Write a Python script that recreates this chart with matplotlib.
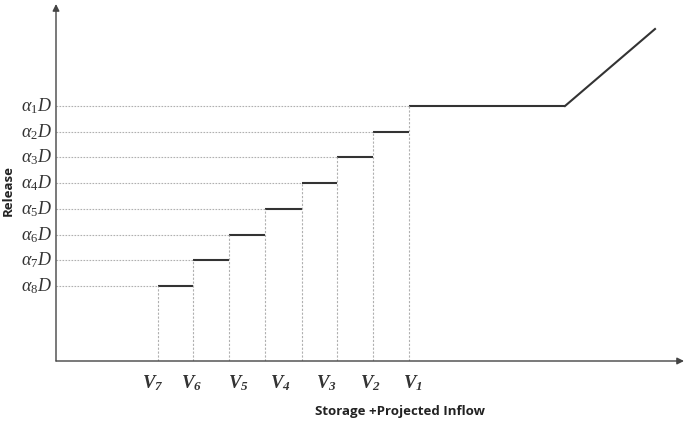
import matplotlib.pyplot as plt

plt.rcParams['mathtext.fontset'] = 'custom'
plt.rcParams['mathtext.it'] = 'Liberation Serif:italic'
plt.rcParams['mathtext.rm'] = 'Liberation Serif'
plt.rcParams['mathtext.bf'] = 'Liberation Serif:bold:italic'

# release levels alpha_1 D ... alpha_8 D (top to bottom)
levels = [255, 229, 204, 178, 152, 126, 101, 75]
level_labels = [r'$\alpha_{%d}D$' % (i + 1) for i in range(8)]
# storage breakpoints, left edge of each step (step for alpha_8 first)
breaks = [102, 137, 173, 209, 246, 281, 317, 353]
# V labels and where they sit on the x axis
v_labels = [r'$\mathbf{V_{%d}}$' % i for i in range(7, 0, -1)]
v_pos = [97, 136, 182, 224, 270, 314, 357]
# flat end of top step and the spill line
flat_end = 509
spill_end = (599, 332)
x_max, y_max = 629, 361

fig = plt.figure(figsize=(6.85, 4.21), dpi=100)
ax = fig.add_axes([56 / 685, 60 / 421, 629 / 685, 361 / 421])
ax.set_xlim(0, x_max)
ax.set_ylim(0, y_max)
ax.axis('off')

lv = levels[::-1]  # alpha_8 first, matches breaks
for i, (x0, y) in enumerate(zip(breaks, lv)):
    x1 = breaks[i + 1] if i + 1 < len(breaks) else flat_end
    ax.plot([x0, x1], [y, y], color='#333333', lw=1.5, solid_capstyle='butt')
    ax.plot([0, x0], [y, y], color='#b0b0b0', lw=0.8, ls=(0, (1.5, 1.2)))
    ax.plot([x0, x0], [0, y], color='#b0b0b0', lw=0.8, ls=(0, (2, 1.5)))

ax.plot([flat_end, spill_end[0]], [lv[-1], spill_end[1]], color='#333333', lw=1.5)

# axes with arrows
ax.annotate('', xy=(0, 357), xytext=(0, 0),
            arrowprops=dict(arrowstyle='-|>', color='#444444', lw=1.0,
                            mutation_scale=10, shrinkA=0, shrinkB=0))
ax.annotate('', xy=(628, 0), xytext=(0, 0),
            arrowprops=dict(arrowstyle='-|>', color='#444444', lw=1.0,
                            mutation_scale=10, shrinkA=0, shrinkB=0))

for y, lab in zip(levels, level_labels):
    ax.text(-4, y, lab, ha='right', va='center', fontsize=13, color='#333333')

for x, lab in zip(v_pos, v_labels):
    ax.text(x, -22, lab, ha='center', va='center', fontsize=13.5, color='#333333')

ax.text(344, -50, 'Storage +Projected Inflow', ha='center', va='center',
        fontsize=9.5, fontweight='bold', family='Open Sans', color='#222222')
ax.text(-48, 170, 'Release', ha='center', va='center', rotation=90,
        fontsize=9.5, fontweight='bold', family='Open Sans', color='#222222')

fig.savefig('out.png', dpi=100)
